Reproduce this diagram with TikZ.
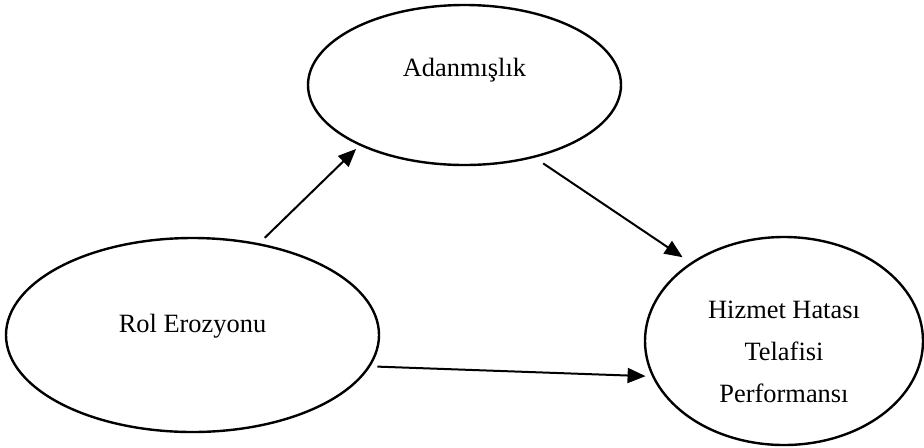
\documentclass[tikz,border=0pt]{standalone}
\usepackage{fontspec}
\setmainfont{Liberation Serif}
\usepackage{tikz}
\usetikzlibrary{arrows.meta}
\usetikzlibrary{positioning}
\usetikzlibrary{shapes.geometric}

\begin{document}
\begin{tikzpicture}
    [x=0.5pt,y=0.5pt,
    construct/.style={ellipse,draw=black,line width=1.2pt,
      inner sep=0pt,font=\fontsize{13.2pt}{21pt}\selectfont},
    link/.style={-{Triangle[length=9pt,width=7.5pt]},line width=1pt}]

    \useasboundingbox (0,0) rectangle (924,447);

    \node (adanmislik)   at (464.5,362) [construct,minimum width=156.5pt,minimum height=80pt,
      text height=0pt,text depth=9pt] {Adanmışlık};

    \node (rol erozyonu) at (192.5,112) [construct,minimum width=186.5pt,minimum height=97pt,
      text height=0pt,text depth=3pt] {Rol Erozyonu};

    \node (telafi)       at (784,106)   [construct,minimum width=139pt,minimum height=104pt,
      align=center,text height=61.8pt,text depth=0pt] {Hizmet Hatası\\Telafisi\\Performansı};

    \draw [link,shorten <=3.85pt,shorten >=2.4pt] (rol erozyonu.54)    -- (adanmislik.210.6);
    \draw [link,shorten <=5.1pt,shorten >=4.8pt]  (adanmislik.314.5)   -- (telafi.140.6);
    \draw [link,shorten <=3.5pt,shorten >=3.2pt]  (rol erozyonu.350.5) -- (telafi.195.1);

  \end{tikzpicture}
\end{document}
